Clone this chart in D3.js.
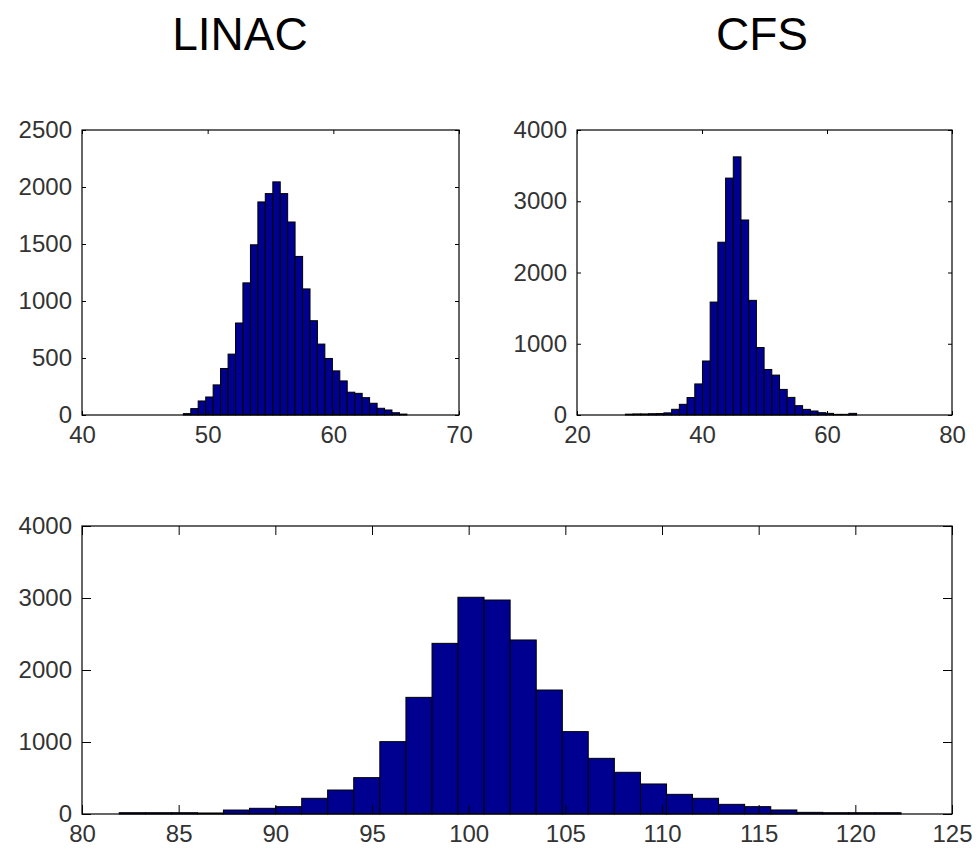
<!DOCTYPE html>
<html>
<head>
<meta charset="utf-8">
<script src="https://cdn.jsdelivr.net/npm/d3@7"></script>
<style>
  html, body { margin: 0; padding: 0; background: #fff; }
  svg { display: block; }
  .tick text { font-family: "Liberation Sans", Arial, sans-serif; font-size: 24px; fill: #333; }
</style>
</head>
<body>
<svg id="chart" width="979" height="849"></svg>
<script>
// ---------- DATA ----------
const titles = ["LINAC", "CFS"];

// LINAC histogram (bin centres, counts)
const linacCenters = [48.36, 48.95, 49.54, 50.14, 50.73, 51.32, 51.92, 52.51, 53.10, 53.70,
                      54.29, 54.88, 55.48, 56.07, 56.66, 57.26, 57.85, 58.44, 59.03, 59.63,
                      60.22, 60.81, 61.41, 62.00, 62.59, 63.19, 63.78, 64.37, 64.97, 65.56];
const linacCounts  = [12, 56, 123, 158, 264, 408, 534, 807, 1159, 1493,
                      1869, 1942, 2045, 1942, 1693, 1391, 1106, 827, 622, 496,
                      387, 299, 200, 190, 152, 103, 59, 44, 20, 8];
const linacXTicks = [40, 50, 60, 70];
const linacYTicks = [0, 500, 1000, 1500, 2000, 2500];

// CFS histogram
const cfsCenters = [28.36, 29.59, 30.82, 32.06, 33.29, 34.52, 35.76, 36.99, 38.22, 39.46,
                    40.69, 41.92, 43.15, 44.39, 45.62, 46.85, 48.09, 49.32, 50.55, 51.79,
                    53.02, 54.25, 55.48, 56.72, 57.95, 59.18, 60.42, 61.65, 62.88, 64.12];
const cfsCounts  = [12, 15, 15, 18, 20, 30, 80, 150, 245, 436,
                    758, 1585, 2425, 3325, 3623, 2737, 1609, 947, 639, 560,
                    359, 247, 131, 79, 56, 33, 23, 9, 9, 23];
const cfsXTicks = [20, 40, 60, 80];
const cfsYTicks = [0, 1000, 2000, 3000, 4000];

// Combined (bottom) histogram
const sumCenters = [82.60, 83.95, 85.30, 86.65, 87.99, 89.34, 90.69, 92.04, 93.38, 94.73,
                    96.08, 97.43, 98.78, 100.12, 101.47, 102.82, 104.17, 105.51, 106.86, 108.21,
                    109.56, 110.90, 112.25, 113.60, 114.95, 116.30, 117.64, 118.99, 120.34, 121.69];
const sumCounts  = [18, 18, 18, 14, 55, 79, 102, 218, 333, 505,
                    1005, 1620, 2370, 3010, 2972, 2417, 1722, 1144, 773, 579,
                    417, 273, 218, 134, 102, 56, 23, 18, 18, 18];
const sumXTicks = [80, 85, 90, 95, 100, 105, 110, 115, 120, 125];
const sumYTicks = [0, 1000, 2000, 3000, 4000];

// ---------- DRAW ----------
const svg = d3.select("#chart");
const barFill = "#000090";

function panel(box, centers, counts, xTicks, yTicks) {
  const x = d3.scaleLinear().domain([xTicks[0], xTicks[xTicks.length - 1]]).range([box.left, box.right]);
  const y = d3.scaleLinear().domain([yTicks[0], yTicks[yTicks.length - 1]]).range([box.bottom, box.top]);
  const tl = box.tick;
  const g = svg.append("g");

  const w = centers[1] - centers[0];
  g.selectAll("rect.bar").data(centers).join("rect")
    .attr("class", "bar")
    .attr("x", d => x(d - w / 2))
    .attr("width", d => x(d + w / 2) - x(d - w / 2))
    .attr("y", (d, i) => y(counts[i]))
    .attr("height", (d, i) => y(0) - y(counts[i]))
    .attr("fill", barFill)
    .attr("stroke", "#000")
    .attr("stroke-width", 1);

  const clean = a => a.call(s => s.select(".domain").remove())
                      .call(s => s.selectAll(".tick line").attr("stroke", "#000"));

  g.append("g").attr("transform", `translate(0,${box.bottom})`)
    .call(d3.axisBottom(x).tickValues(xTicks).tickSize(-tl).tickPadding(11).tickFormat(d3.format("d")))
    .call(clean);
  g.append("g").attr("transform", `translate(0,${box.top})`)
    .call(d3.axisTop(x).tickValues(xTicks).tickSize(-tl).tickFormat(""))
    .call(clean);
  g.append("g").attr("transform", `translate(${box.left},0)`)
    .call(d3.axisLeft(y).tickValues(yTicks).tickSize(-tl).tickPadding(10).tickFormat(d3.format("d")))
    .call(clean);
  g.append("g").attr("transform", `translate(${box.right},0)`)
    .call(d3.axisRight(y).tickValues(yTicks).tickSize(-tl).tickFormat(""))
    .call(clean);

  g.selectAll(".tick text").attr("font-family", "Liberation Sans, Arial, sans-serif").attr("font-size", 24);

  g.append("rect")
    .attr("x", box.left).attr("y", box.top)
    .attr("width", box.right - box.left).attr("height", box.bottom - box.top)
    .attr("fill", "none").attr("stroke", "#000").attr("stroke-width", 1.2);
}

panel({left: 82, right: 459, top: 130, bottom: 415, tick: 4}, linacCenters, linacCounts, linacXTicks, linacYTicks);
panel({left: 577, right: 952, top: 130, bottom: 415, tick: 4}, cfsCenters, cfsCounts, cfsXTicks, cfsYTicks);
panel({left: 82, right: 952, top: 526, bottom: 814, tick: 9}, sumCenters, sumCounts, sumXTicks, sumYTicks);

svg.selectAll("text.title").data(titles).join("text")
  .attr("class", "title")
  .attr("x", (d, i) => [240, 762][i])
  .attr("y", 50)
  .attr("text-anchor", "middle")
  .attr("font-family", "Liberation Sans, Arial, sans-serif")
  .attr("font-size", 46)
  .attr("fill", "#000")
  .text(d => d);
</script>
</body>
</html>
